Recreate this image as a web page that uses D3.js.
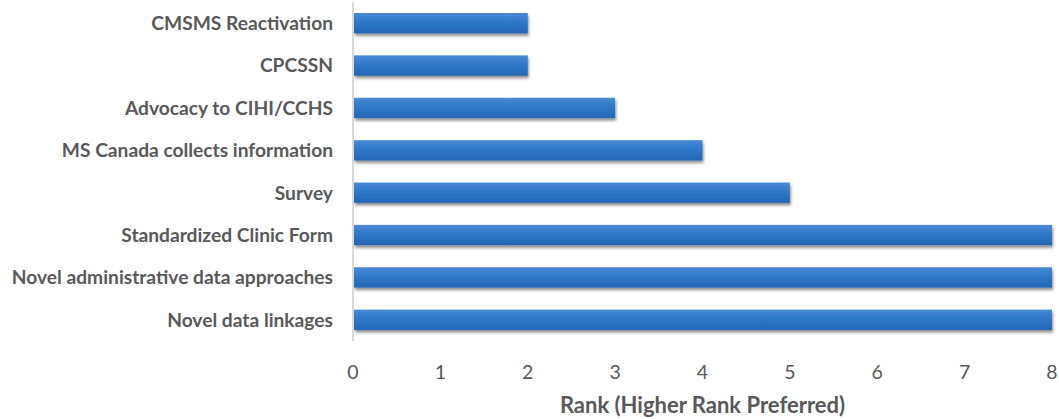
<!DOCTYPE html>
<html>
<head>
<meta charset="utf-8">
<style>
  html, body { margin: 0; padding: 0; background: #fff; }
  svg { display: block; font-family: Lato, "Open Sans", sans-serif; }
</style>
</head>
<body>
<div id="chart"></div>
<script src="https://cdn.jsdelivr.net/npm/d3@7"></script>
<script>
var categories = [
  "CMSMS Reactivation",
  "CPCSSN",
  "Advocacy to CIHI/CCHS",
  "MS Canada collects information",
  "Survey",
  "Standardized Clinic Form",
  "Novel administrative data approaches",
  "Novel data linkages"
];
var ranks = [2, 2, 3, 4, 5, 8, 8, 8];
var tickValues = [0, 1, 2, 3, 4, 5, 6, 7, 8];
var axisTitle = "Rank (Higher Rank Preferred)";

var width = 1059, height = 419;
var textColor = "#595959";

var svg = d3.select("#chart").append("svg")
  .attr("width", width)
  .attr("height", height);

var x = d3.scaleLinear().domain([0, 8]).range([353, 1052]);
var y = d3.scaleBand().domain(categories).range([2, 341]).paddingInner(0.52).paddingOuter(0.26);

var defs = svg.append("defs");
var grad = defs.append("linearGradient")
  .attr("id", "barGrad").attr("x1", 0).attr("y1", 0).attr("x2", 0).attr("y2", 1);
grad.append("stop").attr("offset", "0%").attr("stop-color", "#4a8ad4");
grad.append("stop").attr("offset", "45%").attr("stop-color", "#2e78c8");
grad.append("stop").attr("offset", "100%").attr("stop-color", "#2466b4");

var shadow = defs.append("filter").attr("id", "shadow")
  .attr("x", "-2%").attr("y", "-20%").attr("width", "104%").attr("height", "160%");
shadow.append("feDropShadow")
  .attr("dx", 1).attr("dy", 2.5).attr("stdDeviation", 1.6)
  .attr("flood-color", "#000").attr("flood-opacity", 0.45);

// bars
svg.append("g")
  .selectAll("rect")
  .data(categories)
  .join("rect")
    .attr("x", x(0) + 1)
    .attr("y", d => y(d))
    .attr("width", (d, i) => x(ranks[i]) - x(0) - 1)
    .attr("height", y.bandwidth())
    .attr("fill", "url(#barGrad)")
    .attr("filter", "url(#shadow)");

// vertical axis line
svg.append("line")
  .attr("x1", x(0)).attr("x2", x(0))
  .attr("y1", 2).attr("y2", 341)
  .attr("stroke", "#d9d9d9")
  .attr("stroke-width", 2);

// category labels
svg.append("g")
  .selectAll("text")
  .data(categories)
  .join("text")
    .attr("x", 333)
    .attr("y", d => y(d) + y.bandwidth() / 2)
    .attr("dy", "0.36em")
    .attr("text-anchor", "end")
    .attr("fill", textColor)
    .style("font-size", "19.2px")
    .style("font-weight", "bold")
    .text(d => d);

// x tick labels
svg.append("g")
  .selectAll("text")
  .data(tickValues)
  .join("text")
    .attr("x", d => x(d))
    .attr("y", 379)
    .attr("text-anchor", "middle")
    .attr("fill", textColor)
    .style("font-size", "19.5px")
    .text(d => d);

// axis title
svg.append("text")
  .attr("x", (x(0) + x(8)) / 2)
  .attr("y", 413)
  .attr("text-anchor", "middle")
  .attr("fill", textColor)
  .style("font-size", "22px")
  .style("font-weight", "bold")
  .text(axisTitle);
</script>
</body>
</html>
